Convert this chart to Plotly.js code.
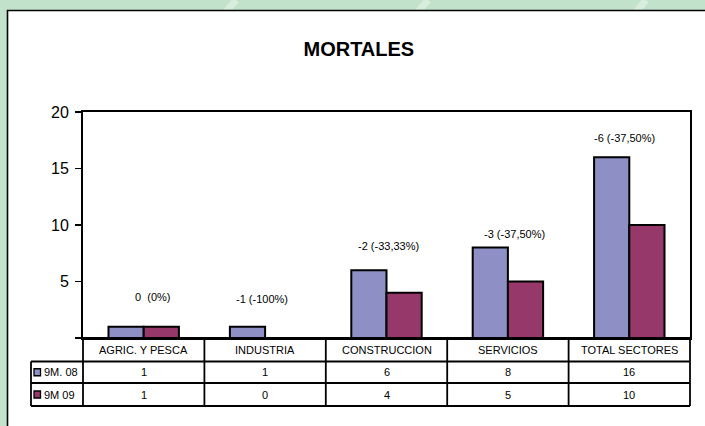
<!DOCTYPE html>
<html>
<head>
<meta charset="utf-8">
<script src="https://cdn.plot.ly/plotly-3.0.1.min.js"></script>
<style>html,body{margin:0;padding:0;background:#c2e2cb;}#chart{width:705px;height:426px;}</style>
</head>
<body>
<div id="chart"></div>
<script>
// ---- data ----
const categories = ['AGRIC. Y PESCA', 'INDUSTRIA', 'CONSTRUCCION', 'SERVICIOS', 'TOTAL SECTORES'];
const seriesNames = ['9M. 08', '9M 09'];
const values0809 = [1, 1, 6, 8, 16];
const values0909 = [1, 0, 4, 5, 10];
const changeLabels = ['0  (0%)', '-1 (-100%)', '-2 (-33,33%)', '-3 (-37,50%)', '-6 (-37,50%)'];
const yTickVals = [0, 5, 10, 15, 20];
const yTickText = ['', '5', '10', '15', '20'];

// ---- styling / layout helpers ----
const FONT = '"Liberation Sans", Arial, sans-serif';
const colors = ['#8d8fc5', '#96386a'];
const W = 705, H = 426;
const M = {l: 83, r: 15, t: 112, b: 88};
const PW = W - M.l - M.r, PH = H - M.t - M.b;
const px = X => (X - M.l) / PW;        // pixel -> paper x
const py = Y => (H - M.b - Y) / PH;    // pixel -> paper y

const traces = [values0809, values0909].map((vals, i) => ({
  type: 'bar',
  name: seriesNames[i],
  x: categories,
  y: vals,
  marker: {color: colors[i], line: {color: '#000', width: 2}},
  hoverinfo: 'x+y+name'
}));

const shapes = [];
// decorative background stripes
[236, 428, 646].forEach(x0 => {
  shapes.push({type: 'line', xref: 'paper', yref: 'paper', layer: 'below',
    x0: px(x0), y0: py(0), x1: px(x0 - 10), y1: py(12),
    line: {color: 'rgba(235,245,237,0.55)', width: 7}});
});
// white panel
shapes.push({type: 'rect', xref: 'paper', yref: 'paper', layer: 'below',
  x0: px(7.5), y0: py(10.5), x1: px(712), y1: py(440),
  fillcolor: '#fff', line: {color: '#000', width: 1.6}});

// table geometry
const tblLeft = px(31), tblRight = 1;
const rowY = [py(338), py(361.5), py(383), py(406)];
const lineStyle = {color: '#000', width: 1.8};
// horizontal lines
shapes.push({type: 'line', xref: 'paper', yref: 'paper', x0: 0, x1: tblRight, y0: rowY[0], y1: rowY[0], line: lineStyle});
for (let r = 1; r < 4; r++) {
  shapes.push({type: 'line', xref: 'paper', yref: 'paper', x0: tblLeft, x1: tblRight, y0: rowY[r], y1: rowY[r], line: lineStyle});
}
// vertical lines at category boundaries
for (let k = 0; k <= categories.length; k++) {
  shapes.push({type: 'line', xref: 'paper', yref: 'paper', x0: k / categories.length, x1: k / categories.length,
    y0: rowY[0], y1: rowY[3], line: lineStyle});
}
shapes.push({type: 'line', xref: 'paper', yref: 'paper', x0: tblLeft, x1: tblLeft, y0: rowY[1], y1: rowY[3], line: lineStyle});

const annotations = [];
// header row
categories.forEach(c => annotations.push({xref: 'x', yref: 'paper', x: c, y: (rowY[0] + rowY[1]) / 2,
  text: c, showarrow: false, font: {family: FONT, size: 11, color: '#000'}, yanchor: 'middle'}));
// value rows + legend cells
[values0809, values0909].forEach((vals, i) => {
  const yc = (rowY[i + 1] + rowY[i + 2]) / 2;
  vals.forEach((v, j) => annotations.push({xref: 'x', yref: 'paper', x: categories[j], y: yc,
    text: String(v), showarrow: false, font: {family: FONT, size: 11, color: '#000'}, yanchor: 'middle'}));
  annotations.push({xref: 'paper', yref: 'paper', x: px(41.5), y: yc, xanchor: 'left', yanchor: 'middle',
    text: seriesNames[i], showarrow: false, font: {family: FONT, size: 11, color: '#000'}});
  const cy = H - M.b - yc * PH;
  shapes.push({type: 'rect', xref: 'paper', yref: 'paper', x0: px(34), x1: px(40.5), y0: py(cy - 3.5), y1: py(cy + 3.5),
    fillcolor: colors[i], line: {color: '#000', width: 1.3}});
});
// change labels above bars (positions)
const labelY = [3.6, 3.45, 8.1, 9.2, 17.7];
const labelShift = [9, -3, 1.5, 7, -4.5];
changeLabels.forEach((t, j) => annotations.push({xref: 'x', yref: 'y', x: categories[j], y: labelY[j],
  xshift: labelShift[j], text: t, showarrow: false, yanchor: 'middle',
  font: {family: FONT, size: 11, color: '#000'}}));

const layout = {
  width: W, height: H,
  margin: M,
  paper_bgcolor: '#c2e2cb',
  plot_bgcolor: '#fff',
  showlegend: false,
  barmode: 'group',
  bargap: 0.42,
  bargroupgap: 0,
  title: {text: '<b>MORTALES</b>', xref: 'container', x: 0.509, xanchor: 'center',
    yref: 'container', y: 1 - 49 / H, yanchor: 'middle',
    font: {family: FONT, size: 20, color: '#000'}},
  xaxis: {type: 'category', showticklabels: false, ticks: '', showgrid: false, zeroline: false,
    showline: true, mirror: true, linecolor: '#000', linewidth: 2, fixedrange: true},
  yaxis: {range: [0, 20], tickvals: yTickVals, ticktext: yTickText, ticks: 'outside', ticklen: 6,
    tickwidth: 1.5, tickcolor: '#000', showgrid: false, zeroline: false,
    showline: true, mirror: true, linecolor: '#000', linewidth: 2,
    tickfont: {family: FONT, size: 16, color: '#000'}, ticklabelstandoff: 3, fixedrange: true},
  shapes: shapes,
  annotations: annotations
};

Plotly.newPlot('chart', traces, layout, {displayModeBar: false, staticPlot: true});
</script>
</body>
</html>
